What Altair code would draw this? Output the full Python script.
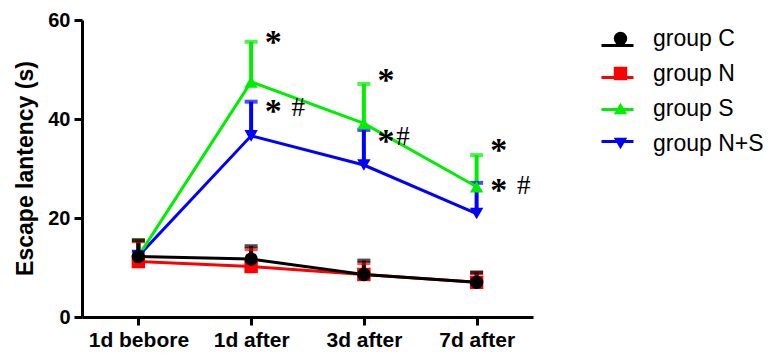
import altair as alt
import pandas as pd

times = ["1d bebore", "1d after", "3d after", "7d after"]
groups = ["group C", "group N", "group S", "group N+S"]
colors = ["#000000", "#ff0000", "#00ee00", "#0000ff"]
shapes = ["circle", "square", "triangle-up", "triangle-down"]

c_mean = [12.2, 11.7, 8.6, 7.0]
c_err = [3.3, 2.6, 2.8, 2.0]
n_mean = [11.2, 10.2, 8.6, 7.0]
n_err = [4.1, 3.5, 2.3, 1.9]
s_mean = [12.3, 47.5, 39.1, 26.3]
s_err = [3.2, 8.1, 8.0, 6.4]
ns_mean = [12.3, 36.6, 30.7, 20.9]
ns_err = [0.9, 6.9, 7.1, 6.2]

# significance marks
star_times = ["1d after", "3d after", "7d after", "1d after", "3d after", "7d after"]
star_y = [56.6, 48.9, 34.7, 42.6, 36.6, 26.7]
hash_times = ["1d after", "3d after", "7d after"]
hash_y = [42.4, 36.5, 26.7]

series = {
    "group N+S": (ns_mean, ns_err),
    "group S": (s_mean, s_err),
    "group N": (n_mean, n_err),
    "group C": (c_mean, c_err),
}
rows = []
for g, (m, e) in series.items():
    for t, mv, ev in zip(times, m, e):
        rows.append({"group": g, "time": t, "mean": mv, "upper": mv + ev})
df = pd.DataFrame(rows)
stars = pd.DataFrame({"time": star_times, "y": star_y, "label": ["*"] * len(star_y)})
hashes = pd.DataFrame({"time": hash_times, "y": hash_y, "label": ["#"] * len(hash_y)})

FONT = "Liberation Sans"

xenc = alt.X(
    "time:N",
    sort=times,
    scale=alt.Scale(type="point", padding=0.5, domain=times),
    axis=alt.Axis(title=None, labelAngle=0, labelFontSize=21, labelPadding=4),
)
yenc = alt.Y(
    "mean:Q",
    scale=alt.Scale(domain=[0, 60], nice=False),
    axis=alt.Axis(
        title="Escape lantency (s)",
        values=[0, 20, 40, 60],
        labelFontSize=20,
        labelPadding=4,
        titleFontSize=23,
        titleX=-50,
        titleY=148,
        titleAlign="center",
        titleBaseline="alphabetic",
    ),
)
cscale = alt.Scale(domain=groups, range=colors)
sscale = alt.Scale(domain=groups, range=shapes)

base = alt.Chart(df)

rules = base.mark_rule(strokeWidth=4).encode(
    x=xenc, y=yenc, y2="upper:Q", color=alt.Color("group:N", scale=cscale, legend=None)
)
caps = base.mark_tick(thickness=4, size=13, orient="horizontal").encode(
    x=xenc, y=alt.Y("upper:Q"), color=alt.Color("group:N", scale=cscale, legend=None)
)
lines = base.mark_line(strokeWidth=3).encode(
    x=xenc,
    y=yenc,
    color=alt.Color(
        "group:N",
        scale=cscale,
        legend=alt.Legend(
            orient="none",
            legendX=518,
            legendY=8,
            title=None,
            symbolType="stroke",
            symbolSize=1024,
            symbolStrokeWidth=3,
            labelFontSize=23,
            labelFont=FONT,
            labelExpr="''",
            rowPadding=2,
        ),
    ),
)
pt_legend = alt.Legend(
    orient="none",
    legendX=527,
    legendY=7,
    title=None,
    symbolSize=180,
    symbolStrokeWidth=0,
    labelFontSize=23,
    labelFont=FONT,
    labelColor="black",
    labelOffset=21,
    rowPadding=11,
)
points = base.mark_point(filled=True, size=180, opacity=1).encode(
    x=xenc,
    y=yenc,
    color=alt.Color("group:N", scale=cscale, legend=pt_legend),
    shape=alt.Shape("group:N", scale=sscale, legend=pt_legend),
)

star_text = alt.Chart(stars).mark_text(
    font="Liberation Serif", fontSize=34, fontWeight="bold", baseline="alphabetic",
    align="center", dx=22, dy=16, color="black",
).encode(x=alt.X("time:N", sort=times), y=alt.Y("y:Q"), text="label:N")

hash_a = alt.Chart(hashes).transform_filter(alt.datum.time != "3d after").mark_text(
    font="Liberation Serif", fontSize=27, baseline="alphabetic",
    align="center", dx=47, dy=9, color="black",
).encode(x=alt.X("time:N", sort=times), y=alt.Y("y:Q"), text="label:N")
hash_b = alt.Chart(hashes).transform_filter(alt.datum.time == "3d after").mark_text(
    font="Liberation Serif", fontSize=27, baseline="alphabetic",
    align="center", dx=39, dy=9, color="black",
).encode(x=alt.X("time:N", sort=times), y=alt.Y("y:Q"), text="label:N")

chart = (
    alt.layer(rules, caps, lines, points, star_text, hash_a, hash_b)
    .resolve_scale(color="independent", shape="independent")
    .properties(
        width=451,
        height=297,
        autosize=alt.AutoSizeParams(type="none"),
        padding={"left": 74, "top": 12, "right": 232, "bottom": 31},
    )
    .configure_view(stroke=None)
    .configure_axis(
        grid=False,
        domainColor="black",
        domainWidth=3,
        tickColor="black",
        tickWidth=3,
        tickSize=8,
        labelColor="black",
        labelFont=FONT,
        labelFontWeight="bold",
        titleColor="black",
        titleFont=FONT,
        titleFontWeight="bold",
    )
)

chart.save("out.html", embed_options={"renderer": "svg", "actions": False})
